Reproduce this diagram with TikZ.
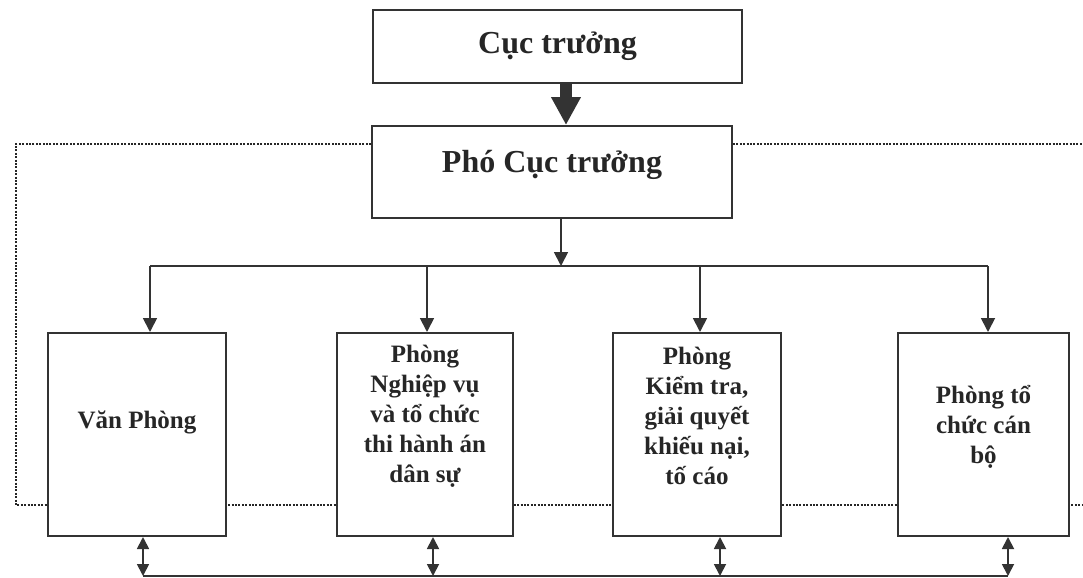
\documentclass[tikz,border=0pt]{standalone}
\usepackage{fontspec}
\setmainfont{Liberation Serif}
\usetikzlibrary{arrows.meta,backgrounds}

\begin{document}
\begin{tikzpicture}[x=0.5pt,y=-0.5pt,
    box/.style={draw=black!80,line width=1pt,fill=white,inner sep=0pt},
    dept/.style={box,minimum height=101.5pt},
    head/.style={box,font=\bfseries\fontsize{16}{19}\selectfont,text=black!85},
    depttext/.style={align=center,inner sep=0pt,font=\bfseries\fontsize{12.5}{15}\selectfont,text=black!85},
    conn/.style={draw=black!80,line width=0.9pt},
    link/.style={conn,-{Triangle[width=7pt,length=7pt]}},
    both/.style={conn,{Triangle[width=6pt,length=6pt]}-{Triangle[width=6pt,length=6pt]}},
    big/.style={draw=black!80,line width=5.8pt,-{Triangle[width=14pt,length=14pt]}},
    dots/.style={draw=black!85,line width=1.1pt,dash pattern=on 1pt off 0.7pt}]

    \useasboundingbox (0,0) rectangle (1083,578);

    \node[head,minimum width=184.5pt,minimum height=36.5pt] (top) at (557.5,46.5) {Cục trưởng};
    \node[head,minimum width=180pt,minimum height=46pt,text height=11pt,text depth=10.5pt] (pho) at (552,172) {Phó Cục trưởng};

    \node[dept,minimum width=89pt] (vp) at (137,434.5) {};
    \node[dept,minimum width=88pt] (nv) at (425,434.5) {};
    \node[dept,minimum width=84pt] (kt) at (697,434.5) {};
    \node[dept,minimum width=85.5pt] (tc) at (983.5,434.5) {};

    \node[depttext] (vptxt) at (137,422) {Văn Phòng};
    \node[depttext] (nvtxt) at (425,416) {Phòng\\Nghiệp vụ\\và tổ chức\\thi hành án\\dân sự};
    \node[depttext] (kttxt) at (697,416) {Phòng\\Kiểm tra,\\giải quyết\\khiếu nại,\\tố cáo};
    \node[depttext] (tctxt) at (983.5,427) {Phòng tổ\\chức cán\\bộ};

    \coordinate (ax) at (566,0);
    \draw[big] (top.south -| ax) -- (pho.north -| ax);

    \coordinate (bus) at (561,266);
    \draw[link] (pho.south -| bus) -- (bus);
    \foreach \n/\x in {vp/150,nv/427,kt/700,tc/988} {
        \coordinate (t\n) at (\x,266);
        \draw[link] (t\n) -- (\n.north -| t\n);
    }
    \draw[conn] (tvp) -- (ttc);

    \foreach \n/\x in {vp/143,nv/433,kt/720,tc/1008} {
        \coordinate (u\n) at (\x,576);
        \draw[both] (\n.south -| u\n) -- (u\n);
    }
    \draw[conn] (uvp) -- (utc);

    \coordinate (dl) at (16,144);
    \coordinate (dr) at (1083,144);
    \coordinate (dbl) at (16,505);
    \coordinate (dbr) at (1083,505);
    \begin{pgfonlayer}{background}
        \draw[dots] (pho.west |- dl) -- (dl) -- (dbl) -- (dbr);
        \draw[dots] (pho.east |- dr) -- (dr);
    \end{pgfonlayer}
\end{tikzpicture}
\end{document}
